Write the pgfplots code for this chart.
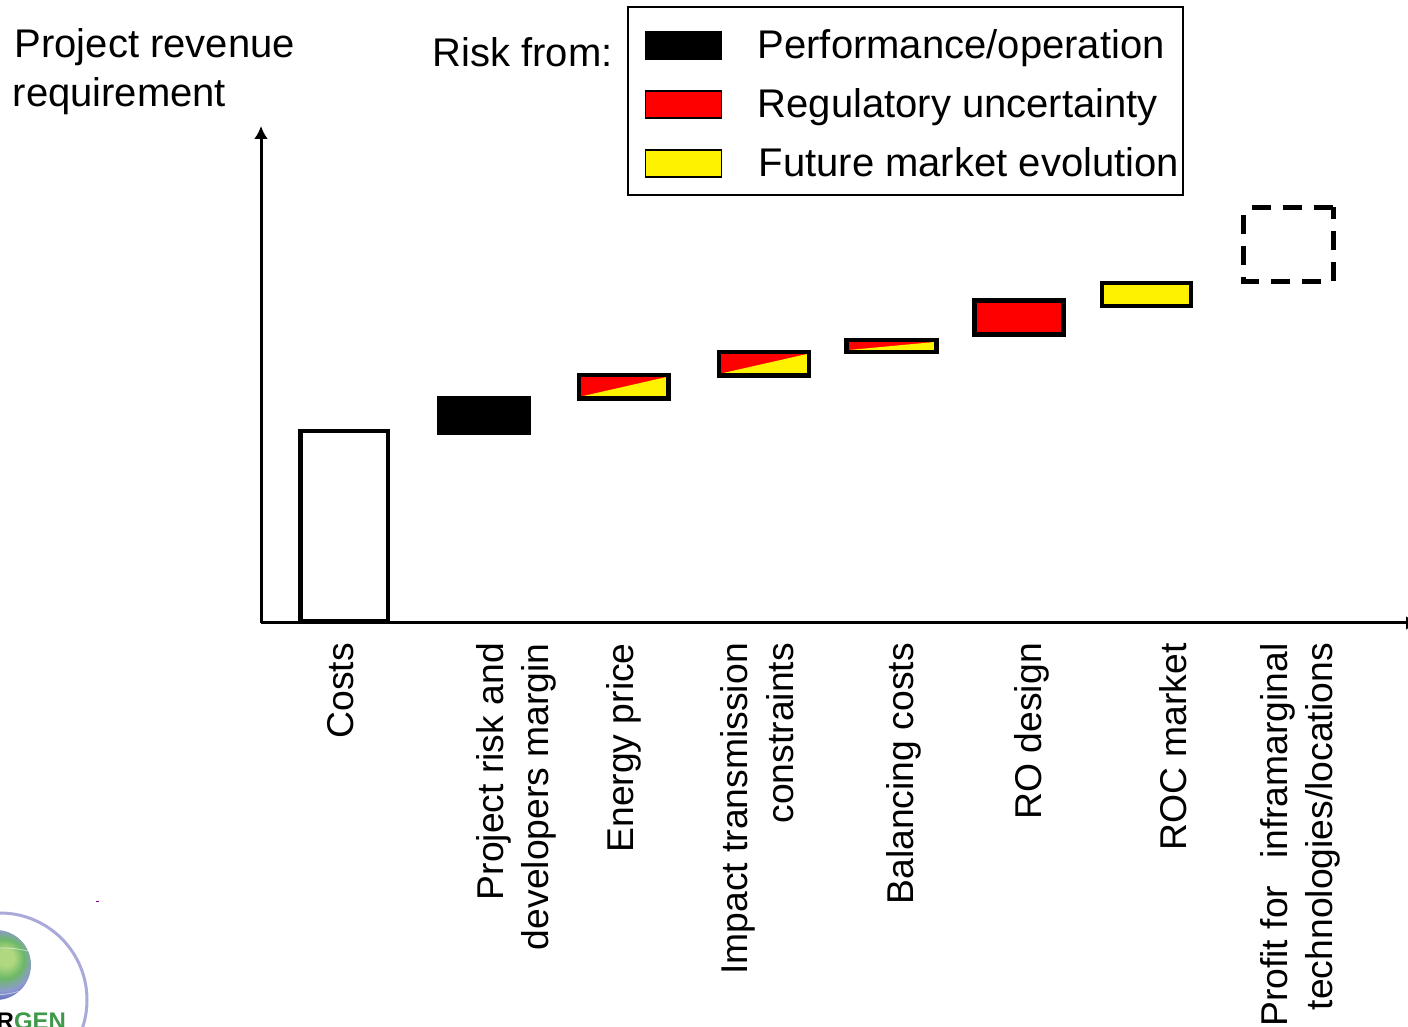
\documentclass[border=0pt]{standalone}
\usepackage{fontspec}
\setmainfont{Liberation Sans}
\usepackage{pgfplots}
\pgfplotsset{compat=1.18}
\usetikzlibrary{arrows.meta}
\definecolor{ringblue}{HTML}{A9AADA}
\definecolor{logogreen}{HTML}{3E9A4A}
\definecolor{globelight}{HTML}{B0D880}
\definecolor{globemid}{HTML}{6DB868}
\definecolor{globerim}{HTML}{8E9AD0}
\definecolor{globeedge}{HTML}{4C5CAC}
\pgfdeclareradialshading{globe}{\pgfpoint{8bp}{6bp}}{
  color(0bp)=(globelight); color(6bp)=(globelight); color(14bp)=(globemid);
  color(22bp)=(globerim); color(30bp)=(globeedge); color(50bp)=(globeedge)}
\newcommand{\legendswatch}[1]{\draw[line width=1.5pt,draw=black,#1] (14.8pt,-14.5pt) rectangle (91.2pt,12.5pt);}
% The first legend row carries a little extra head room
\pgfplotsset{first swatch/.style={legend image code/.code={\path[draw=none,fill=none] (0pt,-14pt) -- (92pt,14pt) (0pt,23pt) -- (0pt,23pt);\legendswatch{##1}}}}
\begin{document}
\begin{tikzpicture}[x=1pt,y=1pt]
\useasboundingbox (0,0) rectangle (1408,1027);
\clip (0,0) rectangle (1408,1027);
\begin{axis}[
  at={(261pt,404pt)}, anchor=origin,
  scale only axis, width=1158pt, height=497pt,
  xmin=0, xmax=1158, ymin=0, ymax=497,
  axis lines=left, clip=false,
  axis line style={line width=3pt,-{Latex[length=13pt,width=14pt]}},
  ytick=\empty,
  xtick={80,255.5,363,496,643,771,912,1039.5},
  xticklabels={Costs,
    {Project risk and\\developers margin},
    Energy price,
    {Impact transmission\\constraints},
    Balancing costs,
    RO design,
    ROC market,
    {Profit for\hspace*{27pt}inframarginal\\technologies/locations}},
  major tick length=0pt,
  xticklabel style={rotate=90,anchor=east,align=right,inner sep=0pt,xshift=-20pt,
    font=\fontsize{37.3}{45.5}\selectfont},
  legend style={
    at={(365.5pt,616.5pt)}, anchor=north west, draw=black, line width=2pt,
    inner xsep=3pt, inner ysep=14pt, row sep=22.5pt,
    font=\fontsize{40}{48}\selectfont,
    nodes={anchor=west,inner sep=3pt},
    /tikz/every even column/.append style={column sep=0pt}},
  legend cell align=left,
  legend image code/.code={\path[draw=none,fill=none] (0pt,-14pt) -- (92pt,14pt);\legendswatch{#1}},
]
% Legend entries
\addlegendimage{fill=black,first swatch}
\addlegendentry{\hspace*{10pt}\ \ Performance/operation\hspace*{-1pt}}
\addlegendimage{fill=red}
\addlegendentry{\hspace*{10pt}\ \ Regulatory uncertainty\hspace*{-1pt}}
\addlegendimage{fill=yellow}
\addlegendentry{\hspace*{11pt}\ \ Future market evolution\hspace*{-2pt}}

% Costs
\addplot[draw=black,line width=4.4pt,fill=white] coordinates {(39.5,2) (39.5,192) (127,192) (127,2)} --cycle;
% Project risk and developers margin
\addplot[draw=none,fill=black] coordinates {(176,188) (176,227) (270,227) (270,188)} --cycle;
% Energy price
\addplot[draw=none,fill=red] coordinates {(318,224.5) (318,248) (407.5,248) (407.5,224.5)} --cycle;
\addplot[draw=none,fill=yellow] coordinates {(320,226.5) (405.5,246) (405.5,226.5)} --cycle;
\addplot[draw=black,line width=4.4pt] coordinates {(318,224.5) (318,248) (407.5,248) (407.5,224.5)} --cycle;
% Impact of transmission constraints
\addplot[draw=none,fill=red] coordinates {(458,247.5) (458,271) (548,271) (548,247.5)} --cycle;
\addplot[draw=none,fill=yellow] coordinates {(460,249.5) (546,269) (546,249.5)} --cycle;
\addplot[draw=black,line width=4.4pt] coordinates {(458,247.5) (458,271) (548,271) (548,247.5)} --cycle;
% Balancing costs
\addplot[draw=none,fill=red] coordinates {(585.5,271) (585.5,283) (675.5,283) (675.5,271)} --cycle;
\addplot[draw=none,fill=yellow] coordinates {(587.5,273) (673.5,281) (673.5,273)} --cycle;
\addplot[draw=black,line width=4.4pt] coordinates {(585.5,271) (585.5,283) (675.5,283) (675.5,271)} --cycle;
% RO design
\addplot[draw=black,line width=4.4pt,fill=red] coordinates {(713.5,288.5) (713.5,322.5) (802.5,322.5) (802.5,288.5)} --cycle;
% ROC market
\addplot[draw=black,line width=4.4pt,fill=yellow] coordinates {(841,317) (841,340) (930,340) (930,317)} --cycle;
% Profit for inframarginal technologies: dashed outline, side by side
\addplot[draw=black,line width=5pt,dash pattern=on 19pt off 12pt] coordinates {(990.7,415.5) (1072,415.5)};
\addplot[draw=black,line width=5pt,dash pattern=on 19pt off 12pt,dash phase=7.5pt] coordinates {(1072,415.5) (1072,339)};
\addplot[draw=black,line width=5pt,dash pattern=on 19pt off 12pt,dash phase=19pt] coordinates {(1072,341.5) (980,341.5)};
\addplot[draw=black,line width=5pt,dash pattern=on 19pt off 12pt,dash phase=12.5pt] coordinates {(982.5,339) (982.5,415.5)};
\end{axis}

% Axis caption and legend heading
\node[anchor=base west,inner sep=0pt,font=\fontsize{40}{48}\selectfont] at (14.5,969) {Project revenue};
\node[anchor=base west,inner sep=0pt,font=\fontsize{40}{48}\selectfont] at (12.5,920) {requirement};
\node[anchor=base west,inner sep=0pt,font=\fontsize{40}{48}\selectfont] at (432.5,960) {Risk from:};

% Organisation logo in the corner
\begin{scope}
  \clip (-4,62) circle (35);
  \shade[shading=globe] (-4,62) circle (35);
  \draw[white,opacity=.55,line width=.8pt] (-4,27) to[bend left=35] (-4,97) (-30,38) to[bend right=20] (26,38) (-34,70) to[bend left=18] (28,76);
\end{scope}
\draw[ringblue,line width=3pt] (0,27) circle (87);
\node[anchor=base west,inner sep=0pt,font=\fontsize{24}{29}\selectfont\bfseries] at (-3.5,-3) {R\textcolor{logogreen}{GEN}};
\draw[violet,line width=1pt] (96,125.5) -- (99,125.5);
\end{tikzpicture}
\end{document}
